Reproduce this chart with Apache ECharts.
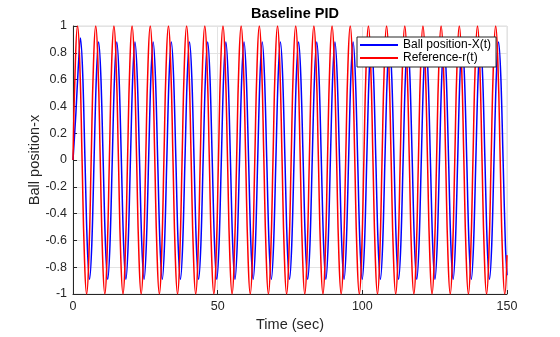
<!DOCTYPE html>
<html>
<head>
<meta charset="utf-8">
<script src="https://cdn.jsdelivr.net/npm/echarts@6/dist/echarts.min.js"></script>
<style>
  html, body { margin: 0; padding: 0; background: #fff; }
  #chart { width: 560px; height: 337px; }
</style>
</head>
<body>
<div id="chart"></div>
<script>
// Reference-r(t): sample times (sec), one row per period
const timeRef = [
  0, 0.79, 1.57, 2.36, 3.14, 3.93, 4.71, 5.50,
  6.28, 7.07, 7.85, 8.64, 9.42, 10.21, 11.00, 11.78,
  12.57, 13.35, 14.14, 14.92, 15.71, 16.49, 17.28, 18.06,
  18.85, 19.64, 20.42, 21.21, 21.99, 22.78, 23.56, 24.35,
  25.13, 25.92, 26.70, 27.49, 28.27, 29.06, 29.85, 30.63,
  31.42, 32.20, 32.99, 33.77, 34.56, 35.34, 36.13, 36.91,
  37.70, 38.48, 39.27, 40.06, 40.84, 41.63, 42.41, 43.20,
  43.98, 44.77, 45.55, 46.34, 47.12, 47.91, 48.69, 49.48,
  50.27, 51.05, 51.84, 52.62, 53.41, 54.19, 54.98, 55.76,
  56.55, 57.33, 58.12, 58.90, 59.69, 60.48, 61.26, 62.05,
  62.83, 63.62, 64.40, 65.19, 65.97, 66.76, 67.54, 68.33,
  69.12, 69.90, 70.69, 71.47, 72.26, 73.04, 73.83, 74.61,
  75.40, 76.18, 76.97, 77.75, 78.54, 79.33, 80.11, 80.90,
  81.68, 82.47, 83.25, 84.04, 84.82, 85.61, 86.39, 87.18,
  87.96, 88.75, 89.54, 90.32, 91.11, 91.89, 92.68, 93.46,
  94.25, 95.03, 95.82, 96.60, 97.39, 98.17, 98.96, 99.75,
  100.53, 101.32, 102.10, 102.89, 103.67, 104.46, 105.24, 106.03,
  106.81, 107.60, 108.38, 109.17, 109.96, 110.74, 111.53, 112.31,
  113.10, 113.88, 114.67, 115.45, 116.24, 117.02, 117.81, 118.60,
  119.38, 120.17, 120.95, 121.74, 122.52, 123.31, 124.09, 124.88,
  125.66, 126.45, 127.23, 128.02, 128.81, 129.59, 130.38, 131.16,
  131.95, 132.73, 133.52, 134.30, 135.09, 135.87, 136.66, 137.44,
  138.23, 139.02, 139.80, 140.59, 141.37, 142.16, 142.94, 143.73,
  144.51, 145.30, 146.08, 146.87, 147.65, 148.44, 149.23, 150
];
const refValues = [
  0, 0.71, 1, 0.71, 0, -0.71, -1, -0.71,
  0, 0.71, 1, 0.71, 0, -0.71, -1, -0.71,
  0, 0.71, 1, 0.71, 0, -0.71, -1, -0.71,
  0, 0.71, 1, 0.71, 0, -0.71, -1, -0.71,
  0, 0.71, 1, 0.71, 0, -0.71, -1, -0.71,
  0, 0.71, 1, 0.71, 0, -0.71, -1, -0.71,
  0, 0.71, 1, 0.71, 0, -0.71, -1, -0.71,
  0, 0.71, 1, 0.71, 0, -0.71, -1, -0.71,
  0, 0.71, 1, 0.71, 0, -0.71, -1, -0.71,
  0, 0.71, 1, 0.71, 0, -0.71, -1, -0.71,
  0, 0.71, 1, 0.71, 0, -0.71, -1, -0.71,
  0, 0.71, 1, 0.71, 0, -0.71, -1, -0.71,
  0, 0.71, 1, 0.71, 0, -0.71, -1, -0.71,
  0, 0.71, 1, 0.71, 0, -0.71, -1, -0.71,
  0, 0.71, 1, 0.71, 0, -0.71, -1, -0.71,
  0, 0.71, 1, 0.71, 0, -0.71, -1, -0.71,
  0, 0.71, 1, 0.71, 0, -0.71, -1, -0.71,
  0, 0.71, 1, 0.71, 0, -0.71, -1, -0.71,
  0, 0.71, 1, 0.71, 0, -0.71, -1, -0.71,
  0, 0.71, 1, 0.71, 0, -0.71, -1, -0.71,
  0, 0.71, 1, 0.71, 0, -0.71, -1, -0.71,
  0, 0.71, 1, 0.71, 0, -0.71, -1, -0.71,
  0, 0.71, 1, 0.71, 0, -0.71, -1, -0.71,
  0, 0.71, 1, 0.71, 0, -0.71, -1, -0.71
];

// Ball position-X(t): sample times (sec)
const timeBall = [
  0,
  1.00, 1.79, 2.57, 3.36, 4.14, 4.93, 5.71, 6.50,
  7.28, 8.07, 8.85, 9.64, 10.42, 11.21, 12.00, 12.78,
  13.57, 14.35, 15.14, 15.92, 16.71, 17.49, 18.28, 19.06,
  19.85, 20.64, 21.42, 22.21, 22.99, 23.78, 24.56, 25.35,
  26.13, 26.92, 27.70, 28.49, 29.27, 30.06, 30.85, 31.63,
  32.42, 33.20, 33.99, 34.77, 35.56, 36.34, 37.13, 37.91,
  38.70, 39.48, 40.27, 41.06, 41.84, 42.63, 43.41, 44.20,
  44.98, 45.77, 46.55, 47.34, 48.12, 48.91, 49.69, 50.48,
  51.27, 52.05, 52.84, 53.62, 54.41, 55.19, 55.98, 56.76,
  57.55, 58.33, 59.12, 59.90, 60.69, 61.48, 62.26, 63.05,
  63.83, 64.62, 65.40, 66.19, 66.97, 67.76, 68.54, 69.33,
  70.12, 70.90, 71.69, 72.47, 73.26, 74.04, 74.83, 75.61,
  76.40, 77.18, 77.97, 78.75, 79.54, 80.33, 81.11, 81.90,
  82.68, 83.47, 84.25, 85.04, 85.82, 86.61, 87.39, 88.18,
  88.96, 89.75, 90.54, 91.32, 92.11, 92.89, 93.68, 94.46,
  95.25, 96.03, 96.82, 97.60, 98.39, 99.17, 99.96, 100.75,
  101.53, 102.32, 103.10, 103.89, 104.67, 105.46, 106.24, 107.03,
  107.81, 108.60, 109.38, 110.17, 110.96, 111.74, 112.53, 113.31,
  114.10, 114.88, 115.67, 116.45, 117.24, 118.02, 118.81, 119.60,
  120.38, 121.17, 121.95, 122.74, 123.52, 124.31, 125.09, 125.88,
  126.66, 127.45, 128.23, 129.02, 129.81, 130.59, 131.38, 132.16,
  132.95, 133.73, 134.52, 135.30, 136.09, 136.87, 137.66, 138.44,
  139.23, 140.02, 140.80, 141.59, 142.37, 143.16, 143.94, 144.73,
  145.51, 146.30, 147.08, 147.87, 148.65, 149.44, 150
];
const ballValues = [
  0,
  0.35, 0.68, 0.91, 0.64, 0, -0.63, -0.89, -0.63,
  0, 0.62, 0.88, 0.62, 0, -0.63, -0.89, -0.63,
  0, 0.62, 0.88, 0.62, 0, -0.63, -0.89, -0.63,
  0, 0.62, 0.88, 0.62, 0, -0.63, -0.89, -0.63,
  0, 0.62, 0.88, 0.62, 0, -0.63, -0.89, -0.63,
  0, 0.62, 0.88, 0.62, 0, -0.63, -0.89, -0.63,
  0, 0.62, 0.88, 0.62, 0, -0.63, -0.89, -0.63,
  0, 0.62, 0.88, 0.62, 0, -0.63, -0.89, -0.63,
  0, 0.62, 0.88, 0.62, 0, -0.63, -0.89, -0.63,
  0, 0.62, 0.88, 0.62, 0, -0.63, -0.89, -0.63,
  0, 0.62, 0.88, 0.62, 0, -0.63, -0.89, -0.63,
  0, 0.62, 0.88, 0.62, 0, -0.63, -0.89, -0.63,
  0, 0.62, 0.88, 0.62, 0, -0.63, -0.89, -0.63,
  0, 0.62, 0.88, 0.62, 0, -0.63, -0.89, -0.63,
  0, 0.62, 0.88, 0.62, 0, -0.63, -0.89, -0.63,
  0, 0.62, 0.88, 0.62, 0, -0.63, -0.89, -0.63,
  0, 0.62, 0.88, 0.62, 0, -0.63, -0.89, -0.63,
  0, 0.62, 0.88, 0.62, 0, -0.63, -0.89, -0.63,
  0, 0.62, 0.88, 0.62, 0, -0.63, -0.89, -0.63,
  0, 0.62, 0.88, 0.62, 0, -0.63, -0.89, -0.63,
  0, 0.62, 0.88, 0.62, 0, -0.63, -0.89, -0.63,
  0, 0.62, 0.88, 0.62, 0, -0.63, -0.89, -0.63,
  0, 0.62, 0.88, 0.62, 0, -0.63, -0.89, -0.63,
  0, 0.62, 0.88, 0.62, 0, -0.63, -0.86
];

const seriesNames = ['Ball position-X(t)', 'Reference-r(t)'];
const seriesColors = ['#0000ff', '#ff0000'];
const xTicks = [0, 50, 100, 150];
const yTicks = [-1, -0.8, -0.6, -0.4, -0.2, 0, 0.2, 0.4, 0.6, 0.8, 1];
const titleText = 'Baseline PID';
const xLabel = 'Time (sec)';
const yLabel = 'Ball position-x';

const zip = (t, v) => t.map((x, i) => [x, v[i]]);
const font = 'Arial, "Liberation Sans", Helvetica, sans-serif';

const chart = echarts.init(document.getElementById('chart'), null, { renderer: 'canvas' });
chart.setOption({
  animation: false,
  backgroundColor: '#ffffff',
  title: {
    text: titleText,
    left: 290,
    textAlign: 'center',
    top: 1,
    textStyle: { fontFamily: font, fontSize: 14.5, fontWeight: 'bold', color: '#000' }
  },
  legend: {
    orient: 'vertical',
    left: 357,
    top: 37,
    itemWidth: 38,
    itemHeight: 2,
    itemGap: 1,
    padding: [2, 5, 3, 3],
    backgroundColor: '#ffffff',
    borderColor: '#262626',
    borderWidth: 1,
    borderRadius: 0,
    icon: 'rect',
    textStyle: { fontFamily: font, fontSize: 12, color: '#000', lineHeight: 12 },
    data: seriesNames
  },
  grid: {
    left: 73, right: 53, top: 26, bottom: 39,
    show: true, borderColor: '#dcdcdc', borderWidth: 1, backgroundColor: '#ffffff'
  },
  xAxis: {
    type: 'value',
    min: xTicks[0], max: xTicks[xTicks.length - 1], interval: 50,
    name: xLabel, nameLocation: 'middle', nameGap: 23, nameMoveOverlap: false,
    nameTextStyle: { fontFamily: font, fontSize: 14.5, color: '#262626' },
    axisLine: { show: true, onZero: false, lineStyle: { color: '#262626', width: 1 } },
    axisTick: { show: true, inside: true, length: 4, lineStyle: { color: '#262626' } },
    axisLabel: { fontFamily: font, fontSize: 12.5, color: '#262626', margin: 6 },
    splitLine: { show: true, lineStyle: { color: '#e3e3e3', width: 1 } }
  },
  yAxis: {
    type: 'value',
    min: yTicks[0], max: yTicks[yTicks.length - 1], interval: 0.2,
    name: yLabel, nameLocation: 'middle', nameGap: 31, nameRotate: 90, nameMoveOverlap: false,
    nameTextStyle: { fontFamily: font, fontSize: 14.5, color: '#262626' },
    axisLine: { show: true, onZero: false, lineStyle: { color: '#262626', width: 1 } },
    axisTick: { show: true, inside: true, length: 4, lineStyle: { color: '#262626' } },
    axisLabel: {
      fontFamily: font, fontSize: 12.5, color: '#262626', margin: 6,
      formatter: v => String(Math.round(v * 10) / 10)
    },
    splitLine: { show: true, lineStyle: { color: '#e3e3e3', width: 1 } }
  },
  series: [
    {
      name: seriesNames[0], type: 'line', data: zip(timeBall, ballValues),
      showSymbol: false, symbol: 'none', smooth: 0.3,
      lineStyle: { color: seriesColors[0], width: 1.5 }, itemStyle: { color: seriesColors[0] },
      clip: true
    },
    {
      name: seriesNames[1], type: 'line', data: zip(timeRef, refValues),
      showSymbol: false, symbol: 'none', smooth: 0.5,
      lineStyle: { color: seriesColors[1], width: 1.5 }, itemStyle: { color: seriesColors[1] },
      clip: true
    }
  ]
});
</script>
</body>
</html>
